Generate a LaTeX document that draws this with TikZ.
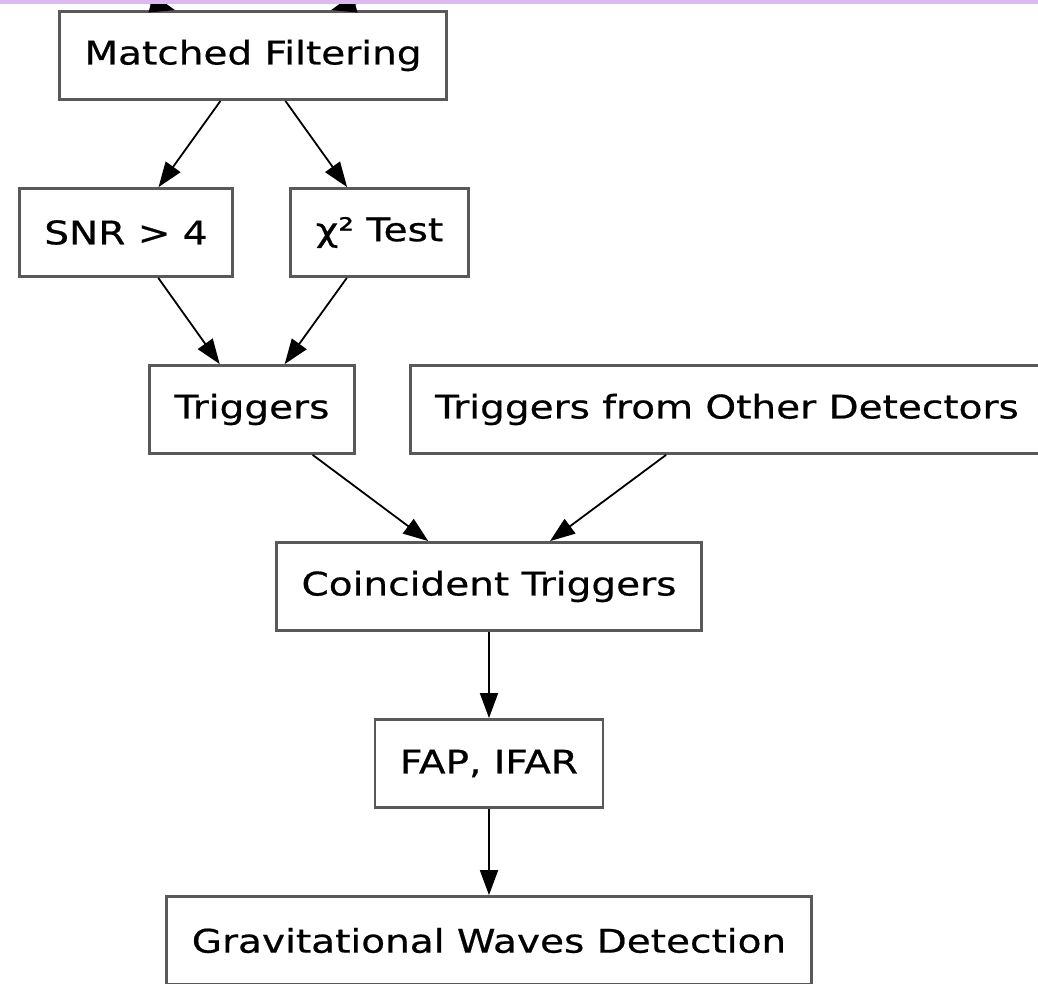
\documentclass[tikz,border=0pt]{standalone}
\usepackage{fontspec}
\setmainfont{DejaVu Sans}[FakeStretch=1.2, FakeBold=0.6]
\usetikzlibrary{shapes.geometric, arrows.meta}
\definecolor{bandpurple}{RGB}{222,184,245}
\tikzstyle{stepbox} = [rectangle, minimum height=88pt, inner xsep=25pt, draw=black!65, line width=2.8pt, fill=white]
\tikzstyle{arrow} = [line width=1.8pt, -{Triangle[length=25pt,width=18pt]}]

\begin{document}
\begin{tikzpicture}[x=1pt, y=1pt, node distance=177pt, font=\fontsize{32.5}{38}\selectfont]
      \useasboundingbox (0,0) rectangle (1038,-983);
      \clip (0,0) rectangle (1038,-983);
      \node (mf) [stepbox] at (253,-55.5) {Matched Filtering};
      \node (snr) [stepbox, below of=mf, xshift=-127pt] {SNR > 4};
      \node (chi) [stepbox, below of=mf, xshift=126.5pt] {χ² Test};
      \node (trig) [stepbox, below of=snr, xshift=126pt] {Triggers};
      \node (other) [stepbox, right of=trig, xshift=298pt] {Triggers from Other Detectors};
      \node (coinc) [stepbox, below of=trig, xshift=237pt] {Coincident Triggers};
      \node (fap) [stepbox, below of=coinc] {FAP, IFAR};
      \node (gwd) [stepbox, below of=fap] {Gravitational Waves Detection};
      % inputs coming in from above the frame
      \coordinate (in1) at (35,28);
      \coordinate (in2) at (471,28);
      \draw [arrow] (in1) -- ([xshift=-78pt]mf.north);
      \draw [arrow] (in2) -- ([xshift=78pt]mf.north);
      \draw [arrow] (mf) -- (snr);
      \draw [arrow] (mf) -- (chi);
      \draw [arrow] (snr) -- (trig);
      \draw [arrow] (chi) -- (trig);
      \draw [arrow] (trig) -- (coinc);
      \draw [arrow] (other) -- (coinc);
      \draw [arrow] (coinc) -- (fap);
      \draw [arrow] (fap) -- (gwd);
      % band along the top edge, over the incoming arrows
      \fill[bandpurple] (0,0) rectangle (1038,-3.5);
    \end{tikzpicture}
\end{document}
